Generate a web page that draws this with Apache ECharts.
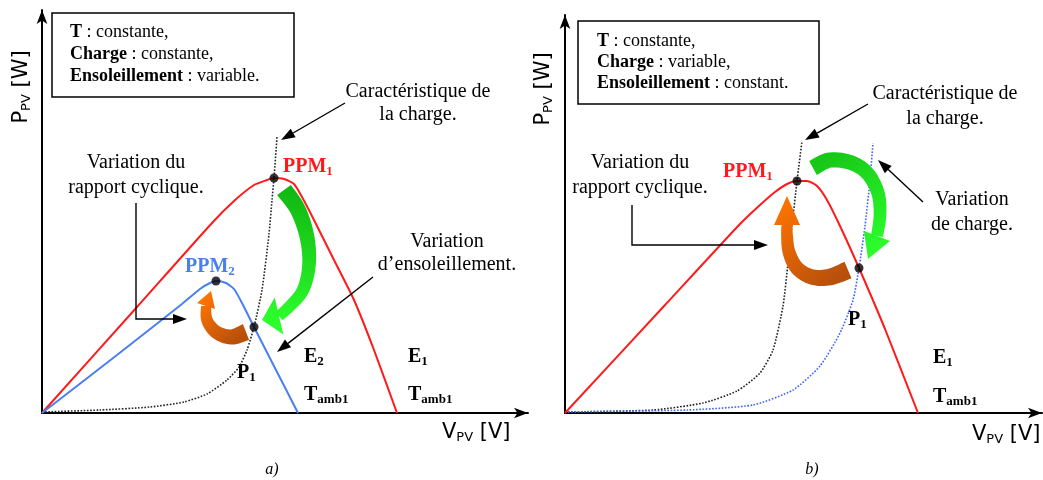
<!DOCTYPE html>
<html>
<head>
<meta charset="UTF-8">
<title>Poursuite du PPM</title>
<script src="https://cdn.jsdelivr.net/npm/echarts@6/dist/echarts.min.js"></script>
<style>
  html, body { margin: 0; padding: 0; background: #fff; }
  #main { width: 1043px; height: 480px; }
</style>
</head>
<body>
<div id="main"></div>
<script>
// valeurs, origine = croisement des axes (unités arbitraires)
// a) ensoleillement variable
var courbeE1a = [[0,0],[95,106],[170,190],[192,212],[212,228],[225,233],[232,235],[242,234],[252,229],[260,216],[272,193],[292,153],[312,113],[332,63],[355,0]];
var courbeE2a = [[0,0],[75,58],[140,109],[158,124],[168,130],[175,132],[184,130],[192,124],[200,110],[212,86],[234,43],[256,0]];
var chargeA = [[0,1],[58,3],[108,6],[142,11],[165,19],[185,33],[197,46],[205,63],[212,86],[220,123],[227,179],[230,213],[232,235],[235,276]];
var pointsA = [[232,235],[174,132],[212,86]]; // PPM1, PPM2, P1

// b) charge variable
var courbeE1b = [[0,0],[100,108],[175,189],[195,208],[210,221],[222,229],[232,232],[242,232],[252,227],[262,213],[275,187],[294,145],[320,84],[353,0]];
var charge1b = [[0,1],[88,3],[138,10],[172,22],[195,40],[208,63],[218,107],[223,150],[227,187],[232,232],[237,272]];
var charge2b = [[0,1],[122,3],[188,8],[228,23],[255,47],[275,80],[288,113],[294,145],[300,187],[305,233],[308,270]];
var pointsB = [[232,232],[294,145]]; // PPM1, P1

// flèches épaisses : tracé central + pointe
var flecheVerteA = [[242,223],[256,203],[265,176],[267,148],[261,123],[248,107],[237,97]], pointeVerteA = [220,93];
var flecheOrangeA = [[204,81],[189,76],[174,81],[165,93],[164,107]], pointeOrangeA = [169,122];
var flecheVerteB = [[248,245],[265,253],[287,250],[303,239],[313,220],[315,198],[312,177]], pointeVerteB = [303,154];
var flecheOrangeB = [[283,143],[265,136],[247,136],[232,145],[224,161],[222,178],[222,188]], pointeOrangeB = [222,217];

// flèches fines (renvois)
var renvoisA = [[[303,310],[239,273]], [[94,210],[94,94],[145,94]], [[331,136],[235,61]]];
var renvoisB = [[[303,309],[240,273]], [[67,208],[67,168],[203,168]], [[358,211],[313,253]]];

var chart = echarts.init(document.getElementById('main'));

function axe(g, max) {
	return {
		type: 'value', gridIndex: g, min: 0, max: max,
		axisLine: {show: true, onZero: false, symbol: ['none', 'arrow'], symbolSize: [8, 14], lineStyle: {color: '#000', width: 2}},
		axisTick: {show: false}, axisLabel: {show: false}, splitLine: {show: false}
	};
}
function courbe(g, data, color, dotted, w) {
	return {
		type: 'line', xAxisIndex: g, yAxisIndex: g, data: data, smooth: 0.2, symbol: 'none', silent: true,
		lineStyle: {color: color, width: w, type: dotted ? 'dotted' : 'solid'}, z: 3
	};
}
function points(g, data) {
	return {type: 'scatter', xAxisIndex: g, yAxisIndex: g, data: data, symbolSize: 9, itemStyle: {color: '#000'}, silent: true, z: 30};
}

var option = {
	animation: false,
	grid: [
		{left: 42, top: 10, width: 486, height: 403, outerBoundsMode: 'none'},
		{left: 565, top: 15, width: 477, height: 398, outerBoundsMode: 'none'}
	],
	xAxis: [axe(0, 486), axe(1, 477)],
	yAxis: [axe(0, 403), axe(1, 398)],
	series: [
		courbe(0, chargeA, '#222', true, 1.6),
		courbe(0, courbeE1a, '#ff1a1a', false, 2),
		courbe(0, courbeE2a, '#4a7ff0', false, 2),
		points(0, pointsA),
		courbe(1, charge1b, '#222', true, 1.6),
		courbe(1, charge2b, '#3c64ff', true, 1.6),
		courbe(1, courbeE1b, '#ff1a1a', false, 2),
		points(1, pointsB)
	]
};
chart.setOption(option);

function P(g, p) { return chart.convertToPixel({gridIndex: g}, p); }

function flecheEpaisse(g, trace, pointe, w0, w1, hw, c0, c1) {
	var pts = trace.map(function (p) { return P(g, p); });
	var tip = P(g, pointe);
	var s = [];
	for (var i = 0; i < pts.length - 1; i++) {
		var p0 = pts[Math.max(i - 1, 0)], p1 = pts[i], p2 = pts[i + 1], p3 = pts[Math.min(i + 2, pts.length - 1)];
		for (var k = 0; k < 8; k++) {
			var t = k / 8, t2 = t * t, t3 = t2 * t;
			var q = [0, 1].map(function (j) {
				return 0.5 * (2 * p1[j] + (-p0[j] + p2[j]) * t + (2 * p0[j] - 5 * p1[j] + 4 * p2[j] - p3[j]) * t2 + (-p0[j] + 3 * p1[j] - 3 * p2[j] + p3[j]) * t3);
			});
			s.push(q);
		}
	}
	s.push(pts[pts.length - 1]);
	var n = s.length, L = [0];
	for (i = 1; i < n; i++) L.push(L[i - 1] + Math.hypot(s[i][0] - s[i - 1][0], s[i][1] - s[i - 1][1]));
	var gauche = [], droite = [];
	for (i = 0; i < n; i++) {
		var a = s[Math.max(i - 1, 0)], b = s[Math.min(i + 1, n - 1)];
		var dx = b[0] - a[0], dy = b[1] - a[1], l = Math.hypot(dx, dy);
		var nx = -dy / l, ny = dx / l;
		var w = (w0 + (w1 - w0) * L[i] / L[n - 1]) / 2;
		gauche.push([s[i][0] + nx * w, s[i][1] + ny * w]);
		droite.push([s[i][0] - nx * w, s[i][1] - ny * w]);
	}
	var e = s[n - 1];
	var ex = tip[0] - e[0], ey = tip[1] - e[1], el = Math.hypot(ex, ey);
	var hx = -ey / el * hw / 2, hy = ex / el * hw / 2;
	var grad = {type: 'linear', x: s[0][0], y: s[0][1], x2: tip[0], y2: tip[1], global: true,
		colorStops: [{offset: 0, color: c0}, {offset: 1, color: c1}]};
	return [
		{type: 'polygon', z: 10, silent: true, shape: {points: gauche.concat(droite.reverse())}, style: {fill: grad}},
		{type: 'polygon', z: 10, silent: true, shape: {points: [[e[0] + hx, e[1] + hy], tip, [e[0] - hx, e[1] - hy]]}, style: {fill: grad}}
	];
}

function fleche(g, trace) {
	var pts = trace.map(function (p) { return P(g, p); });
	var a = pts[pts.length - 2], b = pts[pts.length - 1];
	var dx = b[0] - a[0], dy = b[1] - a[1], l = Math.hypot(dx, dy);
	dx /= l; dy /= l;
	var hl = 14, hw = 10;
	var base = [b[0] - dx * hl, b[1] - dy * hl];
	return [
		{type: 'polyline', z: 10, silent: true, shape: {points: pts.slice(0, -1).concat([base])}, style: {stroke: '#000', lineWidth: 1.4, fill: 'none'}},
		{type: 'polygon', z: 10, silent: true, shape: {points: [b, [base[0] - dy * hw / 2, base[1] + dx * hw / 2], [base[0] + dy * hw / 2, base[1] - dx * hw / 2]]}, style: {fill: '#000'}}
	];
}

var serif = '"Liberation Serif", "Times New Roman", serif';
var sans = '"DejaVu Sans", sans-serif';
function st(size, weight, color, family, lh) {
	return {fontSize: size, fontWeight: weight, fill: color, fontFamily: family || serif, lineHeight: lh};
}
function texte(x, y, text, o) {
	o = o || {};
	var c = o.color || '#000', fam = o.family || serif, sz = o.size || 20, lh = o.lh || 22;
	return {
		type: 'text', x: x, y: y, rotation: o.rot || 0, z: 20, silent: true,
		style: {
			text: text, fill: c, fontFamily: fam, fontSize: sz, fontWeight: o.weight || 'normal',
			fontStyle: o.italic ? 'italic' : 'normal', textAlign: o.align || 'left',
			textVerticalAlign: o.valign || 'top', lineHeight: lh,
			rich: {
				b: st(sz, 'bold', c, fam, lh),
				s: Object.assign(st(Math.round(sz * 0.64), o.weight || 'normal', c, fam, 10), {verticalAlign: 'bottom'})
			}
		}
	};
}
function boite(x, y, w, h) {
	return {type: 'rect', z: 5, silent: true, shape: {x: x, y: y, width: w, height: h}, style: {fill: 'none', stroke: '#000', lineWidth: 1.5}};
}

var g = [];
// a)
g.push(boite(52, 13, 242, 84));
g.push(texte(70, 21, '{b|T} : constante,\n{b|Charge} : constante,\n{b|Ensoleillement} : variable.', {size: 18}));
g.push(texte(418, 80, 'Caractéristique de\nla charge.', {align: 'center', lh: 23}));
g.push(texte(283, 156, 'PPM{s|1}', {weight: 'bold', color: '#ff1a1a'}));
g.push(texte(136, 150, 'Variation du\nrapport cyclique.', {align: 'center', lh: 25}));
g.push(texte(185, 256, 'PPM{s|2}', {weight: 'bold', color: '#4a7ff0'}));
g.push(texte(447, 230, 'Variation\nd’ensoleillement.', {align: 'center', lh: 23}));
g.push(texte(304, 346, 'E{s|2}', {weight: 'bold'}));
g.push(texte(408, 346, 'E{s|1}', {weight: 'bold'}));
g.push(texte(304, 384, 'T{s|amb1}', {weight: 'bold'}));
g.push(texte(408, 384, 'T{s|amb1}', {weight: 'bold'}));
g.push(texte(237, 362, 'P{s|1}', {weight: 'bold'}));
g.push(texte(442, 422, 'V{s|PV} [V]', {family: sans, size: 21}));
g.push(texte(22, 87, 'P{s|PV} [W]', {family: sans, size: 21, rot: Math.PI / 2, align: 'center', valign: 'middle'}));
g.push(texte(272, 470, 'a)', {italic: true, size: 16, align: 'center', valign: 'middle'}));
// b)
g.push(boite(578, 21, 241, 83));
g.push(texte(597, 31, '{b|T} : constante,\n{b|Charge} : variable,\n{b|Ensoleillement} : constant.', {size: 18, lh: 21}));
g.push(texte(723, 161, 'PPM{s|1}', {weight: 'bold', color: '#ff1a1a'}));
g.push(texte(640, 150, 'Variation du\nrapport cyclique.', {align: 'center', lh: 25}));
g.push(texte(945, 81, 'Caractéristique de\nla charge.', {align: 'center', lh: 25}));
g.push(texte(972, 187, 'Variation\nde charge.', {align: 'center', lh: 25}));
g.push(texte(848, 309, 'P{s|1}', {weight: 'bold'}));
g.push(texte(933, 347, 'E{s|1}', {weight: 'bold'}));
g.push(texte(933, 386, 'T{s|amb1}', {weight: 'bold'}));
g.push(texte(972, 424, 'V{s|PV} [V]', {family: sans, size: 21}));
g.push(texte(544, 89, 'P{s|PV} [W]', {family: sans, size: 21, rot: Math.PI / 2, align: 'center', valign: 'middle'}));
g.push(texte(812, 470, 'b)', {italic: true, size: 16, align: 'center', valign: 'middle'}));

renvoisA.forEach(function (r) { g = g.concat(fleche(0, r)); });
renvoisB.forEach(function (r) { g = g.concat(fleche(1, r)); });
g = g.concat(flecheEpaisse(0, flecheVerteA, pointeVerteA, 17, 11, 38, '#12b812', '#2cff2c'));
g = g.concat(flecheEpaisse(0, flecheOrangeA, pointeOrangeA, 17, 10, 19, '#b8500c', '#ff7400'));
g = g.concat(flecheEpaisse(1, flecheVerteB, pointeVerteB, 16, 12, 28, '#18c818', '#2cff2c'));
g = g.concat(flecheEpaisse(1, flecheOrangeB, pointeOrangeB, 18, 11, 26, '#b8500c', '#ff7400'));

chart.setOption({graphic: {elements: g}});
</script>
</body>
</html>
